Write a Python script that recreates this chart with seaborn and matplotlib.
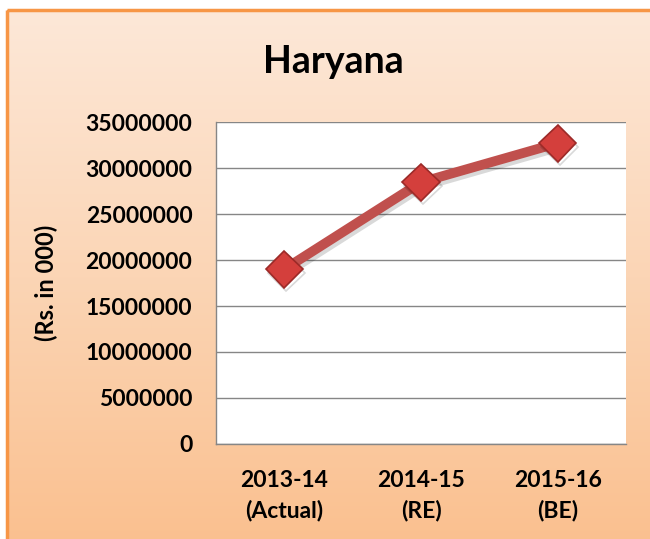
import numpy as np
import pandas as pd
import seaborn as sns
import matplotlib.pyplot as plt
from matplotlib.colors import LinearSegmentedColormap
from matplotlib.patches import Rectangle
import matplotlib.patheffects as pe

# data
years = ["2013-14\n(Actual)", "2014-15\n(RE)", "2015-16\n(BE)"]
amount = [19000000, 28450000, 32700000]
yticks = [0, 5000000, 10000000, 15000000, 20000000, 25000000, 30000000, 35000000]

df = pd.DataFrame({"year": years, "amount": amount})

sns.set_style("white")
plt.rcParams["font.family"] = ["Lato", "DejaVu Sans"]
plt.rcParams["font.weight"] = "bold"
plt.rcParams["text.color"] = "black"
plt.rcParams["xtick.color"] = "black"
plt.rcParams["ytick.color"] = "black"
plt.rcParams["axes.labelcolor"] = "black"

fig = plt.figure(figsize=(6.5, 5.39), dpi=100, facecolor="white")

# orange gradient background with border
bg = fig.add_axes([0, 0, 1, 1], zorder=-10)
bg.set_xlim(0, 650); bg.set_ylim(539, 0); bg.axis("off")
grad = LinearSegmentedColormap.from_list("g", ["#fde8d8", "#fbd5b5", "#fac08f"])
bg.imshow(np.linspace(0, 1, 256).reshape(-1, 1), cmap=grad, aspect="auto",
          extent=[7, 660, 545, 10], zorder=0)
bg.add_patch(Rectangle((7, 10), 660, 540, fill=False, edgecolor="#f79646", lw=2.5, zorder=1))

ax = fig.add_axes([216 / 650, 1 - 444 / 539, 410 / 650, 322 / 539])
ax.set_facecolor("white")
sns.lineplot(data=df, x="year", y="amount", ax=ax, sort=False,
             color="#c0504d", linewidth=7, marker="D", markersize=19,
             markerfacecolor="#d43f3c", markeredgecolor="#9c2a28", markeredgewidth=1.2,
             path_effects=[pe.SimpleLineShadow(offset=(1.5, -2.5), alpha=0.15), pe.Normal()],
             zorder=3)

ax.set_ylim(0, 35000000)
ax.set_yticks(yticks)
ax.set_yticklabels([str(v) for v in yticks])
ax.set_xlim(-0.5, 2.5)
ax.set_xticks(range(len(years)))
ax.set_xticklabels(years, linespacing=1.45)
ax.set_xticks([-0.5, 0.5, 1.5, 2.5], minor=True)
ax.tick_params(axis="x", which="major", length=0, pad=19, labelsize=16.5)
ax.tick_params(axis="x", which="minor", length=8, width=1, color="#868686", direction="out")
ax.tick_params(axis="y", length=7, width=1, color="#868686", direction="out", pad=10, labelsize=16.5)
ax.grid(axis="y", color="#868686", linewidth=1)
ax.set_axisbelow(True)
for s in ["top", "right"]:
    ax.spines[s].set_visible(False)
for s in ["left", "bottom"]:
    ax.spines[s].set_color("#868686")
    ax.spines[s].set_linewidth(1)
ax.set_xlabel("")
ax.set_ylabel("(Rs. in 000)", fontsize=17, fontweight="bold", labelpad=20)

fig.text(333 / 650, 1 - 62 / 539, "Haryana", ha="center", va="center",
         fontsize=27, fontweight="bold")

plt.savefig("out.png", dpi=100)
plt.close()
